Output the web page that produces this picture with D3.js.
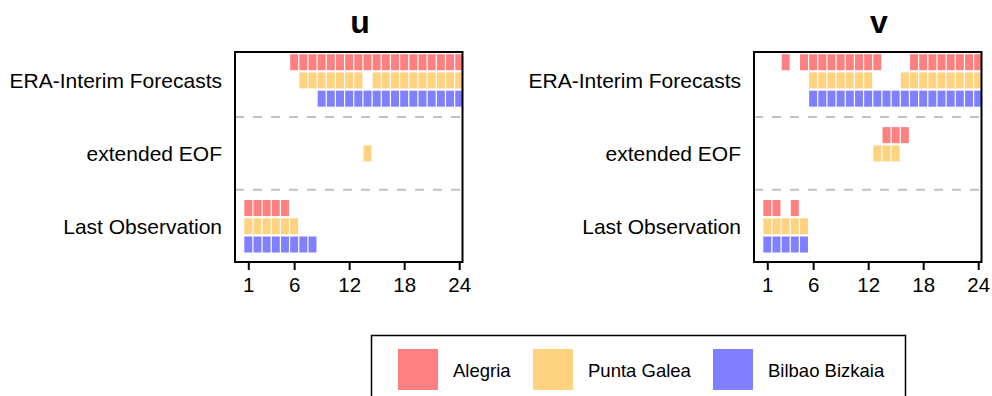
<!DOCTYPE html>
<html>
<head>
<meta charset="utf-8">
<script src="https://cdn.jsdelivr.net/npm/d3@7"></script>
<style>
  html, body { margin: 0; padding: 0; background: #fff; }
  svg { display: block; font-family: "Liberation Sans", Arial, sans-serif; }
</style>
</head>
<body>
<svg id="chart" width="992" height="396"></svg>
<script>
// Forecast methods (rows) and stations (colours)
const methods = ["ERA-Interim Forecasts", "extended EOF", "Last Observation"];
const methodCodes = ["ERA", "EOF", "LO"];
const stations = ["Alegria", "Punta Galea", "Bilbao Bizkaia"];
const stationColors = ["#FF8080", "#FFD280", "#8080FF"];
const tickHours = [1, 6, 12, 18, 24];
const leadHours = [1, 2, 3, 4, 5, 6, 7, 8, 9, 10, 11, 12, 13, 14, 15, 16, 17, 18, 19, 20, 21, 22, 23, 24];

// Best method at each lead hour (1..24), wind component u
const uAlegria = ["LO","LO","LO","LO","LO","ERA","ERA","ERA","ERA","ERA","ERA","ERA","ERA","ERA","ERA","ERA","ERA","ERA","ERA","ERA","ERA","ERA","ERA","ERA"];
const uPuntaGalea = ["LO","LO","LO","LO","LO","LO","ERA","ERA","ERA","ERA","ERA","ERA","ERA","EOF","ERA","ERA","ERA","ERA","ERA","ERA","ERA","ERA","ERA","ERA"];
const uBilbao = ["LO","LO","LO","LO","LO","LO","LO","LO","ERA","ERA","ERA","ERA","ERA","ERA","ERA","ERA","ERA","ERA","ERA","ERA","ERA","ERA","ERA","ERA"];

// Best method at each lead hour (1..24), wind component v
const vAlegria = ["LO","LO","ERA","LO","ERA","ERA","ERA","ERA","ERA","ERA","ERA","ERA","ERA","EOF","EOF","EOF","ERA","ERA","ERA","ERA","ERA","ERA","ERA","ERA"];
const vPuntaGalea = ["LO","LO","LO","LO","LO","ERA","ERA","ERA","ERA","ERA","ERA","ERA","EOF","EOF","EOF","ERA","ERA","ERA","ERA","ERA","ERA","ERA","ERA","ERA"];
const vBilbao = ["LO","LO","LO","LO","LO","ERA","ERA","ERA","ERA","ERA","ERA","ERA","ERA","ERA","ERA","ERA","ERA","ERA","ERA","ERA","ERA","ERA","ERA","ERA"];

const panels = [
  { title: "u", left: 235, series: [uAlegria, uPuntaGalea, uBilbao] },
  { title: "v", left: 754, series: [vAlegria, vPuntaGalea, vBilbao] }
];

const svg = d3.select("#chart");
const panelTop = 52, W = 227.5, H = 210;

const x = d3.scaleLinear().domain([-0.45, 24.36]).range([0, W]);
const y = d3.scaleLinear().domain([-0.39, 2.49]).range([0, H]);
const rowStep = 0.25, cellH = 0.22, cellW = 0.87;

panels.forEach((p, pi) => {
  const g = svg.append("g").attr("transform", `translate(${p.left},${panelTop})`);

  g.append("clipPath").attr("id", "clip" + pi)
    .append("rect").attr("width", W).attr("height", H);

  // Separators between method groups
  g.selectAll("line.sep").data([0.5, 1.5]).join("line")
    .attr("class", "sep")
    .attr("x1", 0).attr("x2", W)
    .attr("y1", d => y(d)).attr("y2", d => y(d))
    .attr("stroke", "#c0c0c0").attr("stroke-width", 2)
    .attr("stroke-dasharray", "9,9");

  // Cells: one per station per lead hour, in the row of the best method
  const cells = [];
  p.series.forEach((s, si) => {
    s.forEach((code, hi) => {
      cells.push({ hour: leadHours[hi], station: si, method: methodCodes.indexOf(code) });
    });
  });

  g.append("g").attr("clip-path", `url(#clip${pi})`)
    .selectAll("rect").data(cells).join("rect")
    .attr("x", d => x(d.hour - cellW / 2))
    .attr("width", x(cellW) - x(0))
    .attr("y", d => y(d.method + (d.station - 1) * rowStep - cellH / 2))
    .attr("height", y(cellH) - y(0))
    .attr("fill", d => stationColors[d.station]);

  // Frame
  g.append("rect").attr("width", W).attr("height", H)
    .attr("fill", "none").attr("stroke", "#000").attr("stroke-width", 2);

  // Method labels
  g.selectAll("text.method").data(methods).join("text")
    .attr("class", "method")
    .attr("x", -13).attr("y", (d, i) => y(i))
    .attr("dy", "0.35em")
    .attr("text-anchor", "end")
    .attr("font-size", 21)
    .text(d => d);

  // Lead-hour axis
  const axis = g.append("g").attr("transform", `translate(0,${H + 1})`)
    .call(d3.axisBottom(x).tickValues(tickHours).tickSize(7).tickSizeOuter(0).tickPadding(7));
  axis.select(".domain").remove();
  axis.selectAll(".tick line").attr("stroke", "#000").attr("stroke-width", 2);
  axis.selectAll(".tick text").attr("font-size", 20.5).attr("fill", "#000")
    .attr("font-family", "'Liberation Sans', Arial, sans-serif");

  // Panel title
  g.append("text")
    .attr("x", 125).attr("y", 33 - panelTop)
    .attr("text-anchor", "middle")
    .attr("font-size", 32).attr("font-weight", "bold")
    .text(p.title);
});

// Legend
const lg = svg.append("g");
lg.append("rect").attr("x", 371.5).attr("y", 335.5).attr("width", 534).attr("height", 80)
  .attr("fill", "#fff").attr("stroke", "#000").attr("stroke-width", 1.5);
const legendX = [398, 533, 713];
stations.forEach((s, i) => {
  lg.append("rect").attr("x", legendX[i]).attr("y", 349).attr("width", 40).attr("height", 41)
    .attr("fill", stationColors[i]);
  lg.append("text").attr("x", legendX[i] + 55).attr("y", 377)
    .attr("font-size", 18.5).text(s);
});
</script>
</body>
</html>
